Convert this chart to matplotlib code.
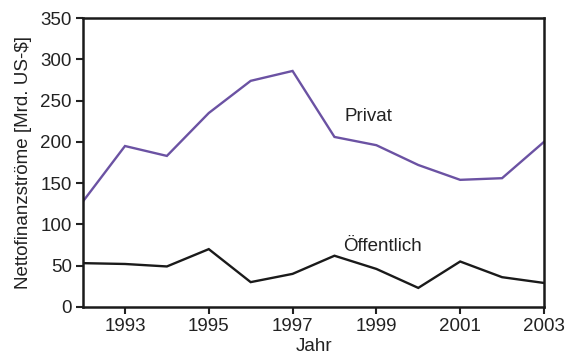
import matplotlib
matplotlib.use("Agg")
import matplotlib.pyplot as plt

plt.rcParams['font.family'] = ['Liberation Sans', 'DejaVu Sans']

years = [1992, 1993, 1994, 1995, 1996, 1997, 1998, 1999, 2000, 2001, 2002, 2003]
privat = [128, 195, 183, 235, 274, 286, 206, 196, 172, 154, 156, 200]
oeffentlich = [53, 52, 49, 70, 30, 40, 62, 46, 23, 55, 36, 29]
xticks = [1993, 1995, 1997, 1999, 2001, 2003]
yticks = [0, 50, 100, 150, 200, 250, 300, 350]

FS = 13.5
TXT = '#222222'

fig = plt.figure(figsize=(5.69, 3.56), dpi=100)
ax = fig.add_axes([0.146, 0.138, 0.81, 0.811])

ax.plot(years, privat, color='#6b52a3', lw=1.7, solid_joinstyle='miter')
ax.plot(years, oeffentlich, color='#1a1a1a', lw=1.7, solid_joinstyle='miter')

ax.text(1998.25, 231, 'Privat', fontsize=FS, color=TXT, ha='left', va='center')
ax.text(1998.2, 73, 'Öffentlich', fontsize=FS, color=TXT, ha='left', va='center')

ax.set_xlim(1992, 2003)
ax.set_ylim(0, 350)
ax.set_xticks(xticks)
ax.set_yticks(yticks)
ax.tick_params(direction='out', length=5, width=1.5, pad=3, labelsize=FS, colors=TXT)
for s in ax.spines.values():
    s.set_linewidth(1.8)
    s.set_color('#1a1a1a')

ax.set_xlabel('Jahr', fontsize=FS, color=TXT, labelpad=2)
ax.set_ylabel('Nettofinanzströme [Mrd. US-$]', fontsize=FS, color=TXT, labelpad=6)

fig.savefig('out.png', dpi=100)
